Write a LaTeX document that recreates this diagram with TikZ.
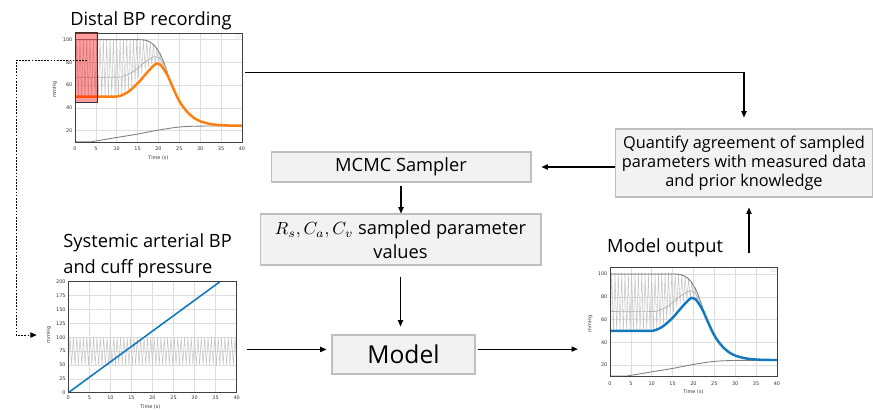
\documentclass[tikz,border=0pt]{standalone}
\usepackage{fontspec}
\setmainfont{Open Sans}
\newfontfamily\tickfont{DejaVu Sans}
\usepackage{xcolor}
\usepackage{tikz}
\usetikzlibrary{positioning, arrows.meta}

\definecolor{boxfill}{HTML}{F2F2F2}
\definecolor{boxline}{HTML}{BFBFBF}
\definecolor{mplorange}{HTML}{FF7F0E}
\definecolor{mplblue}{HTML}{1379BF}
\definecolor{gridgray}{HTML}{DEDEDE}
\definecolor{pulsegray}{HTML}{C4C4C4}
\definecolor{tracegray}{HTML}{808080}

% envelopes of the pulse trace (time in s, pressure in mmHg)
\pgfmathdeclarefunction{lowenv}{1}{%
  \pgfmathparse{(#1<10) ? 50 : ((#1<19.5) ? 50+14.5*(1-cos(180*(#1-10)/9.5)) : 79-14*((#1-19.5)/3)^2)}%
}
\pgfmathdeclarefunction{upenv}{1}{%
  \pgfmathparse{100-34*(max(#1-15,0)/7.5)^3}%
}

\tikzset{
  procbox/.style={draw=boxline, fill=boxfill, line width=0.6pt, align=center, inner sep=0pt,
    font=\fontsize{10.4}{11.2}\selectfont},
  title/.style={align=left, inner sep=0pt, font=\fontsize{10.4}{14.7}\selectfont},
  ticklbl/.style={font=\tickfont\fontsize{2.8}{3}\selectfont, inner sep=0.4pt, text=black!80},
  flow/.style={line width=0.6pt, -{Triangle[length=3.6pt,width=3pt]}},
  probe/.style={flow, dash pattern=on 1pt off 0.8pt},
  gridline/.style={gridgray, line width=0.3pt},
}

% pressure plot in data coordinates: #1 curve colour, #2 name prefix
\newcommand{\BPplot}[2]{%
  % grid
  \foreach \x in {5,10,...,35}
    \draw[gridline] (\x,10) -- (\x,105.5);
  \foreach \y in {20,40,...,100}
    \draw[gridline] (0,\y) -- (40,\y);
  % pulse trace
  \draw[pulsegray, line width=0.3pt] (0,50)
    foreach \k in {1,...,28} { -- ({0.8*\k-0.4},{upenv(0.8*\k-0.4)}) -- ({0.8*\k},{lowenv(0.8*\k)}) };
  % envelopes
  \draw[tracegray, line width=0.5pt] (0,100) -- (15,100) -- plot[domain=15:22.5, samples=30] (\x,{upenv(\x)});
  \foreach \k in {1,...,28}
    \fill[tracegray] ({0.8*\k-0.4},{upenv(0.8*\k-0.4)}) circle (0.35pt);
  \draw[tracegray!60, line width=0.4pt] plot[smooth] coordinates {(0,67) (10,67) (12,68.3) (14,72)
    (16,78) (18,83.5) (19.2,85) (20.3,83.5) (21.3,78) (22,72) (22.5,66)};
  \draw[tracegray, line width=0.5pt] plot[smooth] coordinates {(0,10.3) (4,10.3) (6,11.5) (10,14)
    (15,17) (20,20.5) (25,23.2) (30,24) (40,24.2)};
  % pressure curve
  \draw[#1, line width=1.4pt] (0,50) -- (10,50) -- plot[smooth] coordinates {(10,50) (11,50.8) (12.5,53.5)
    (14,58) (15.5,63.5) (17,70) (18.5,76) (19.5,79) (20.3,78.3) (21,75.5) (21.8,71) (22.5,66)
    (23.5,57.5) (24.5,49.5) (25.5,43) (27,36) (28.5,31.2) (30,28.3) (32,26.2) (34,25.1) (37,24.5) (40,24.4)};
  % legend box
  \draw[gridgray, fill=white, line width=0.3pt, rounded corners=0.3pt] (38.5,102.2) rectangle (39.6,104.4);
  % frame and labels
  \draw[black!75, line width=0.4pt] (0,10) rectangle (40,105.5);
  \foreach \x in {0,5,...,40}
    \node[ticklbl] (#2x\x) at (\x,3.8) {\x};
  \foreach \y in {20,40,...,100}
    \node[ticklbl, anchor=east] (#2y\y) at (-0.4,\y) {\y};
  \node[ticklbl, rotate=90] (#2unit) at (-4.8,56) {mmHg};
  \node[ticklbl] (#2time) at (20,-4) {Time (s)};
}

\begin{document}
\begin{tikzpicture}[x=0.02cm, y=-0.02cm]
    \useasboundingbox (0,0) rectangle (873,410);

    % distal BP recording
    \begin{scope}[shift={(75,153.4)}, x=0.0835cm, y=0.02275cm]
        \BPplot{mplorange}{d}
        \draw[black!80, fill=red, fill opacity=0.38, line width=0.5pt] (0,45.2) rectangle (5.3,106.7);
        \coordinate (win) at (2.9,82);
        \coordinate (distalout) at (40.8,71);
    \end{scope}
    \node[title] (ttldistal) at (151,21) {Distal BP recording};

    % systemic arterial BP and cuff pressure
    \begin{scope}[shift={(68.3,392.7)}, x=0.0842cm, y=0.0111cm]
        \foreach \x in {5,10,...,35}
        \draw[gridline] (\x,0) -- (\x,200);
        \foreach \y in {25,50,...,175}
        \draw[gridline] (0,\y) -- (40,\y);
        \draw[pulsegray, line width=0.3pt] (0,50)
            foreach \k in {1,...,50} { -- ({0.8*\k-0.4},100) -- ({0.8*\k},50) };
        \draw[mplblue, line width=0.9pt] (0,0) -- (36,200);
        \draw[black!75, line width=0.4pt] (0,0) rectangle (40,200);
        \foreach \x in {0,5,...,40}
        \node[ticklbl] (sx\x) at (\x,-9.5) {\x};
        \foreach \y in {0,25,...,200}
        \node[ticklbl, anchor=east] (sy\y) at (-0.4,\y) {\y};
        \node[ticklbl, rotate=90] (sunit) at (-4.6,104) {mmHg};
        \node[ticklbl] (stime) at (19.5,-26) {Time (s)};
        \coordinate (sysin) at (-7.5,104);
        \coordinate (sysout) at (42.4,78);
    \end{scope}
    \node[title, anchor=west] (ttlsys) at (63,256) {Systemic arterial BP\\and cuff pressure};

    % model output
    \begin{scope}[shift={(610,387.75)}, x=0.0835cm, y=0.02275cm]
        \BPplot{mplblue}{o}
        \coordinate (outin) at (-7.7,34);
        \coordinate (outtop) at (33.3,118.5);
    \end{scope}
    \node[title] (ttlout) at (665,248) {Model output};

    % process boxes
    \node[procbox, minimum width=5.2cm, minimum height=0.6cm] (mcmc) at (401,167) {MCMC Sampler};
    \node[procbox, minimum width=5.62cm, minimum height=1.02cm, font=\fontsize{10.4}{13.4}\selectfont]
        (params) at (400.5,239.5) {$R_s, C_a, C_v$ sampled parameter\\values};
    \node[procbox, minimum width=2.86cm, minimum height=0.78cm, font=\fontsize{14}{16}\selectfont]
        (model) at (403.5,354.5) {Model};
    \node[procbox, minimum width=5.14cm, minimum height=1.36cm, font=\fontsize{9.3}{10.9}\selectfont]
        (quant) at (744,163)
        {Quantify agreement of sampled\\parameters with measured data\\and prior knowledge};

    % connectors
    \draw[flow, shorten >=0.22cm] (distalout) -| (quant.north);
    \draw[flow, shorten >=0.2cm] (quant.west |- mcmc.east) -- (mcmc.east);
    \draw[flow, shorten <=0.06cm] (mcmc.south) -- (mcmc.south |- params.north);
    \draw[flow, shorten <=0.22cm, shorten >=0.16cm] (params.south) -- (params.south |- model.north);
    \draw[flow, shorten >=0.1cm] (sysout) -- (sysout -| model.west);
    \draw[flow, shorten <=0.04cm] (model.east |- outin) -- (outin);
    \draw[flow, shorten >=0.2cm] (outtop) -- (outtop |- quant.south);
    \draw[probe] (win) -- ++(-71,0) |- (sysin);
\end{tikzpicture}
\end{document}
